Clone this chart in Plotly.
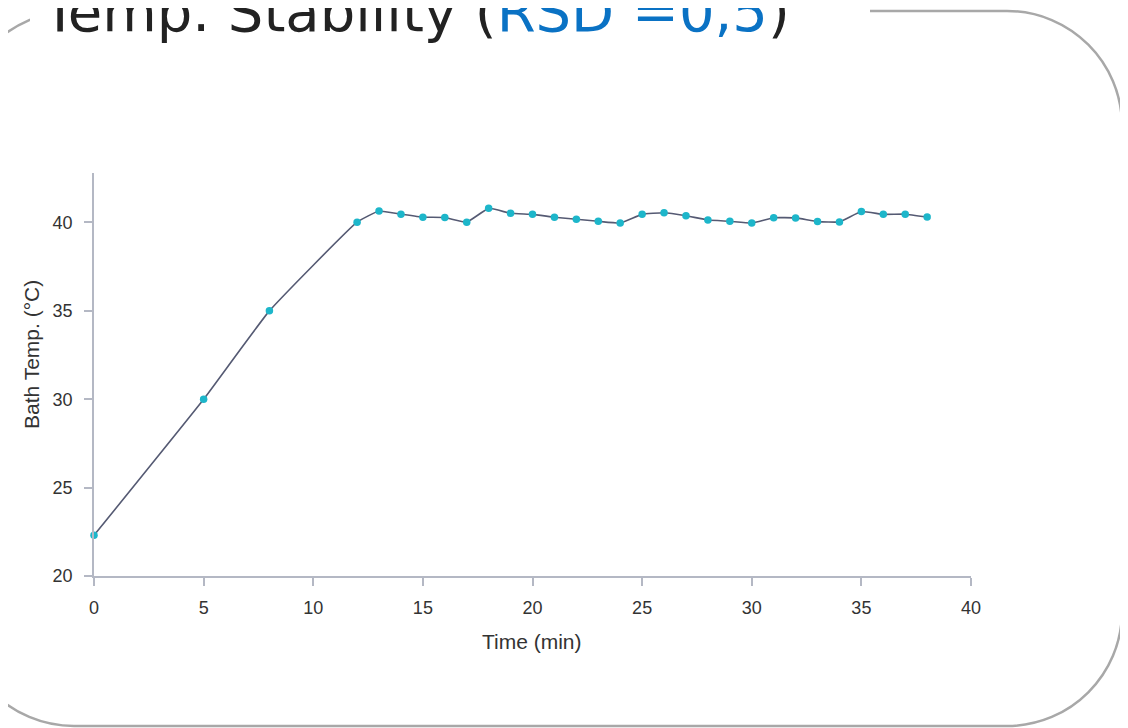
import plotly.graph_objects as go

time_min = [0, 5, 8, 12, 13, 14, 15, 16, 17, 18, 19, 20, 21, 22, 23, 24, 25, 26, 27,
            28, 29, 30, 31, 32, 33, 34, 35, 36, 37, 38]
bath_temp = [22.3, 30.0, 35.0, 40.02, 40.65, 40.47, 40.3, 40.28, 40.02, 40.8, 40.52,
             40.46, 40.3, 40.18, 40.07, 39.97, 40.46, 40.55, 40.38, 40.14, 40.07, 39.97,
             40.27, 40.26, 40.05, 40.03, 40.62, 40.46, 40.47, 40.31]
x_ticks = [0, 5, 10, 15, 20, 25, 30, 35, 40]
y_ticks = [20, 25, 30, 35, 40]
x_title = "Time (min)"
y_title = "Bath Temp. (°C)"

OFF = 8  # default page body margin
W, H = 1128 - OFF, 728 - OFF
# plot area in page pixels, converted to figure pixels
PL, PR, PT, PB = 94 - OFF, 971 - OFF, 173 - OFF, 576 - OFF


def px_to_paper(x, y):
    # x, y are page pixels
    x -= OFF
    y -= OFF
    return (x - PL) / (PR - PL), (PB - y) / (PB - PT)


fig = go.Figure()
fig.add_trace(go.Scatter(
    x=time_min, y=bath_temp, mode="lines+markers",
    line=dict(color="#555a73", width=1.6, shape="spline", smoothing=0.35),
    marker=dict(color="#1db6ca", size=7.5),
    cliponaxis=False, showlegend=False,
))

axis_font = dict(family="Liberation Sans, Arial, sans-serif", size=18, color="#333333")
title_font = dict(family="Liberation Sans, Arial, sans-serif", size=21, color="#333333")

fig.update_xaxes(
    range=[0, 40], tickvals=x_ticks, ticks="outside", ticklen=8, tickcolor="#b4b8c4",
    tickwidth=1.5, ticklabelstandoff=6,
    showline=True, linecolor="#b4b8c4", linewidth=1.8, showgrid=False, zeroline=False,
    tickfont=axis_font,
)
fig.update_yaxes(
    range=[20, 42.8], tickvals=y_ticks, ticks="outside", ticklen=8, tickcolor="#b4b8c4",
    tickwidth=1.5, ticklabelstandoff=8,
    showline=True, linecolor="#b4b8c4", linewidth=1.8, showgrid=False, zeroline=False,
    tickfont=axis_font,
)

# axis titles placed as in the reference
ax, ay = px_to_paper(532, 641)
fig.add_annotation(xref="paper", yref="paper", x=ax, y=ay, xanchor="center", yanchor="middle",
                   showarrow=False, text=x_title, font=title_font)
bx, by = px_to_paper(31, 354)
fig.add_annotation(xref="paper", yref="paper", x=bx, y=by, xanchor="center", yanchor="middle",
                   showarrow=False, text=y_title, font=title_font, textangle=-90)

# rounded frame around the slide content (page pixels)
L, R, T, B, r = -41, 1122, 11, 726, 115
k = 0.5523 * r


def P(x, y):
    a, b = px_to_paper(x, y)
    return f"{a:.5f},{b:.5f}"


path = (
    f"M {P(L + r, T)} L {P(R - r, T)} "
    f"C {P(R - r + k, T)} {P(R, T + r - k)} {P(R, T + r)} "
    f"L {P(R, B - r)} "
    f"C {P(R, B - r + k)} {P(R - r + k, B)} {P(R - r, B)} "
    f"L {P(L + r, B)} "
    f"C {P(L + r - k, B)} {P(L, B - r + k)} {P(L, B - r)} "
    f"L {P(L, T + r)} "
    f"C {P(L, T + r - k)} {P(L + r - k, T)} {P(L + r, T)} Z"
)
shapes = [
    dict(type="path", xref="paper", yref="paper", path=path,
         line=dict(color="#a8a8a8", width=2.5), layer="below"),
]
x0, y0 = px_to_paper(30, -5)
x1, y1 = px_to_paper(870, 30)
shapes.append(dict(type="rect", xref="paper", yref="paper", x0=x0, y0=y0, x1=x1, y1=y1,
                   fillcolor="white", line=dict(width=0), layer="below"))

tx, ty = px_to_paper(40, 46)
fig.add_annotation(
    xref="paper", yref="paper", x=tx, y=ty, xanchor="left", yanchor="bottom",
    showarrow=False,
    text="Temp. Stability (<span style='color:#0a72c4'>RSD =0,5</span>)",
    font=dict(family="DejaVu Sans, sans-serif", size=56, color="#222222"),
)

fig.update_layout(
    width=W, height=H,
    margin=dict(l=PL, r=W - PR, t=PT, b=H - PB),
    paper_bgcolor="white", plot_bgcolor="white",
    shapes=shapes,
)

fig.write_html("out.html")
